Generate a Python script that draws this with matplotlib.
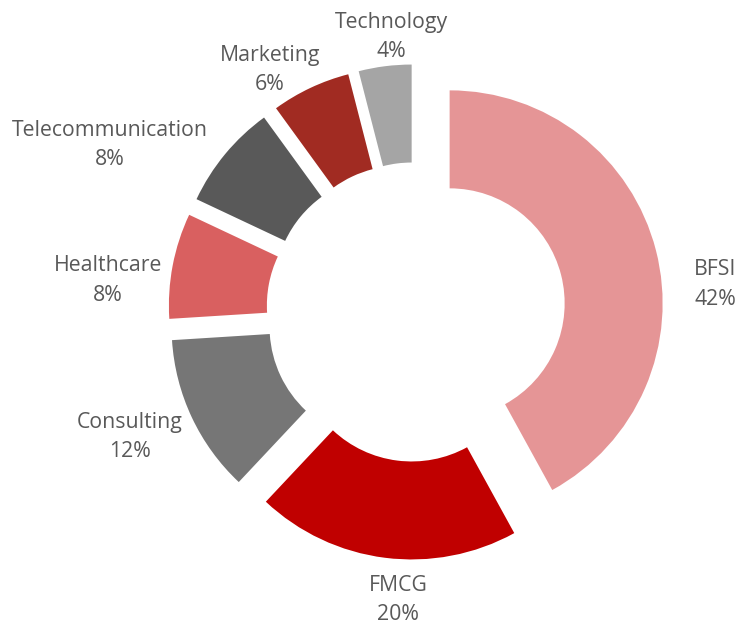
import numpy as np
import matplotlib
matplotlib.use("Agg")
import matplotlib.pyplot as plt

# ---- data ----
categories = ["BFSI", "FMCG", "Consulting", "Healthcare", "Telecommunication", "Marketing", "Technology"]
shares = [42, 20, 12, 8, 8, 6, 4]

# ---- style / layout ----
colors = ["#E59596", "#C00000", "#767676", "#D96060", "#595959", "#A12B22", "#A5A5A5"]
label_angle = [5.2, -93.6, -156.4, 174.1, 151.4, 121.1, 95.2]      # degrees, around the chart centre
label_radius = [1.41, 1.355, 1.465, 1.454, 1.637, 1.327, 1.296]    # in units of the pie radius

W, H, DPI = 747, 627, 100
R_PX = 213.0
CX, CY = 416.0, 312.0

fig = plt.figure(figsize=(W / DPI, H / DPI), dpi=DPI)
ax = fig.add_axes([0, 0, 1, 1])
ax.axis("off")

ax.pie(shares, colors=colors, startangle=90, counterclock=False, radius=1.0,
       explode=[0.163] * len(shares),
       wedgeprops=dict(width=0.46, linewidth=0))
ax.set_aspect("equal", adjustable="box")
ax.set_xlim(-CX / R_PX, (W - CX) / R_PX)
ax.set_ylim(-(H - CY) / R_PX, CY / R_PX)

for cat, val, a, r in zip(categories, shares, label_angle, label_radius):
    t = np.deg2rad(a)
    ax.text(r * np.cos(t), r * np.sin(t), f"{cat}\n{val}%", ha="center", va="center",
            multialignment="center", fontsize=15.3, color="#595959",
            family=["Open Sans", "DejaVu Sans"], linespacing=1.55)

fig.savefig("out.png", dpi=DPI, facecolor="white")
